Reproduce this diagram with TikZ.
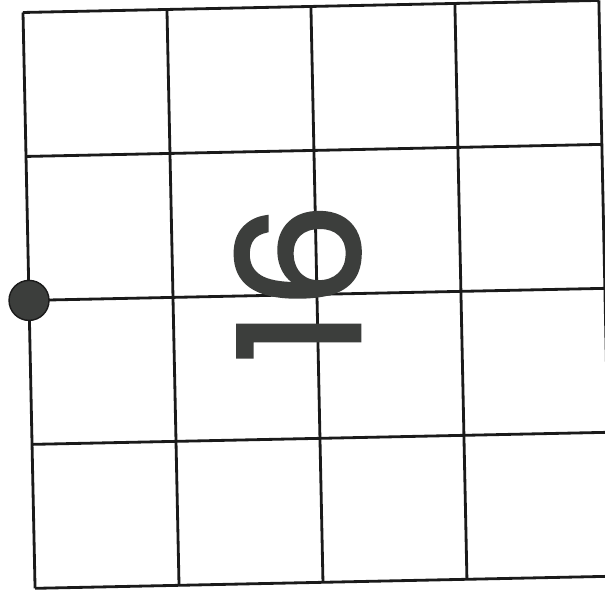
\documentclass[tikz,border=0pt]{standalone}
\usepackage{fontspec}
\usepackage{tikz}
\usetikzlibrary{positioning}
\usepackage{xcolor}
\newfontfamily\digitfont[FakeBold=2]{Poppins}
\definecolor{gdline}{HTML}{1A1A1A}
\definecolor{gdink}{HTML}{3C3E3C}

\begin{document}
\begin{tikzpicture}[
    gridline/.style={draw=gdline, line width=0.8pt},
    marker/.style={circle, fill=gdink, draw=gdline, line width=0.4pt,
                   minimum size=0.4cm, inner sep=0pt},
    numtext/.style={text=gdink, font=\digitfont\fontsize{48}{48}\selectfont,
                    rotate=90, inner sep=0pt}]
    \useasboundingbox (0,0) rectangle (6.05,5.95);
    \fill[white] (0,0) rectangle (6.05,5.95);
    \begin{scope}[shift={(0.23,5.825)}, rotate=1.2]
      \foreach \i in {0,...,4} {
        \draw[gridline] (\i*1.44,0) -- (\i*1.44,-5.76);
        \draw[gridline] (0,-\i*1.44) -- (5.76,-\i*1.44);
      }
      \node[numtext] (num) at (2.69,-2.76) {16};
      \node[marker] (dot) at (0,-2.88) {};
    \end{scope}
  \end{tikzpicture}
\end{document}
